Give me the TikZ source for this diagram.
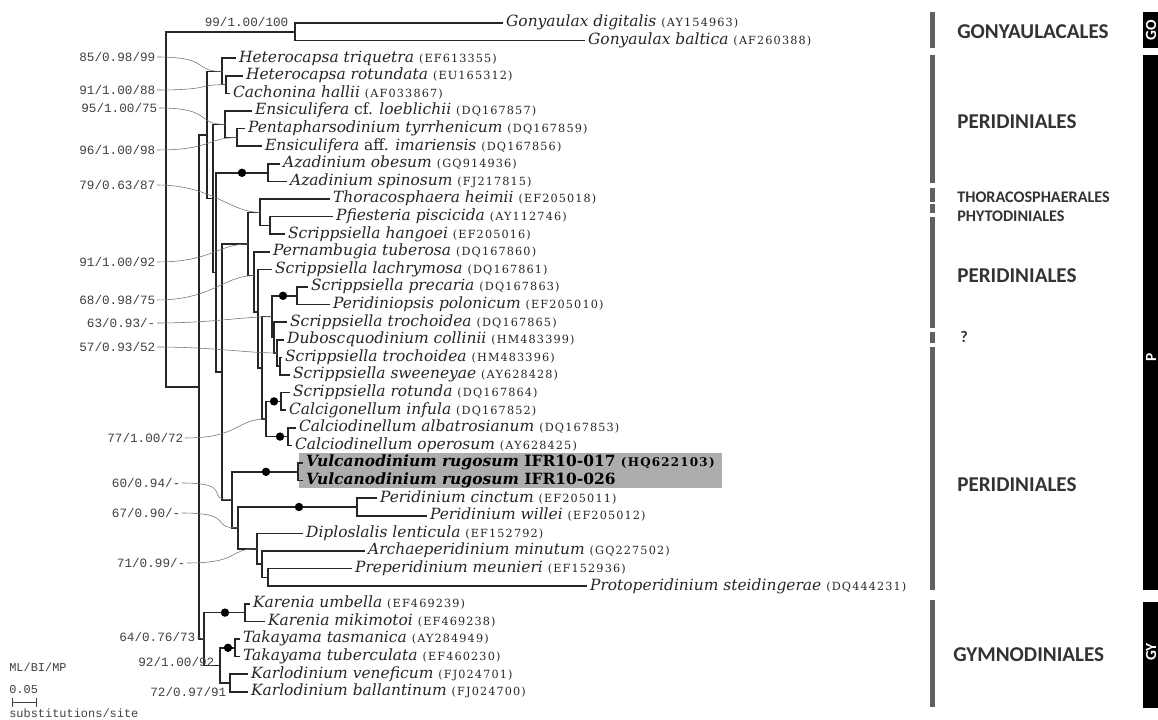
\documentclass[tikz,border=0pt]{standalone}
\usepackage{fontspec}
\setmainfont{DejaVu Serif}
\newfontfamily\accfont[LetterSpace=10]{DejaVu Serif}
\newfontfamily\valfont{Liberation Mono}
\newfontfamily\ordfont{Carlito}
\usepackage{tikz}
\usetikzlibrary{calc}

\newcommand{\taxon}[2]{\textit{#1}\ {\accfont\fontsize{8}{9}\selectfont(#2)}}

\begin{document}
\begin{tikzpicture}[x=0.025cm,y=-0.025cm,
    br/.style={draw=black!85,line width=1.1pt},
    lead/.style={draw=black!55,line width=0.4pt},
    leaf/.style={anchor=west,inner xsep=2pt,inner ysep=0pt,text height=8pt,text depth=2.5pt,
      font=\fontsize{11}{12}\selectfont,text=black!85},
    val/.style={anchor=east,inner sep=1pt,font=\valfont\fontsize{9}{10}\selectfont,text=black!75},
    note/.style={anchor=west,inner sep=0pt,font=\valfont\fontsize{8.5}{9}\selectfont,text=black!75},
    dot/.style={circle,fill=black,inner sep=0pt,minimum size=0.21cm},
    ord/.style={anchor=west,inner sep=0pt,font=\ordfont\bfseries\fontsize{15}{16}\selectfont,text=black!80},
    ordsm/.style={ord,font=\ordfont\bfseries\fontsize{11.5}{12}\selectfont},
    clade/.style={rotate=90,inner sep=0pt,text=white,font=\ordfont\bfseries\fontsize{11}{12}\selectfont}]

  \fill[white] (0,0) rectangle (1158,720);
  \useasboundingbox (0,0) rectangle (1158,720);

  \fill[black!32] (299,453) rectangle (722,488);

  % internal nodes
  \coordinate (R) at (166,209.4);
  \coordinate (Gon) at (295,31.8);
  \coordinate (N1) at (199,387);
  \coordinate (N2) at (207,134.9);
  \coordinate (H1) at (222,71.4);
  \coordinate (H2) at (226,84.6);
  \coordinate (N3) at (213,198.4);
  \coordinate (E1) at (225,124.4);
  \coordinate (E2) at (237,137.6);
  \coordinate (N4) at (216,272.4);
  \coordinate (Az) at (268,172.8);
  \coordinate (N5) at (222,372);
  \coordinate (P1) at (248,244);
  \coordinate (T1) at (260,212.4);
  \coordinate (T2) at (270,225.6);
  \coordinate (S1) at (254,275.6);
  \coordinate (S2) at (258,312.2);
  \coordinate (S3) at (262,367.9);
  \coordinate (S4) at (272,316.7);
  \coordinate (Pr) at (297,295.8);
  \coordinate (S5) at (274,337.6);
  \coordinate (S6) at (277,353);
  \coordinate (S7) at (280,366.2);
  \coordinate (S8) at (266,419);
  \coordinate (Ro) at (281,401.4);
  \coordinate (Ca) at (288,436.6);
  \coordinate (Pl) at (232,499.9);
  \coordinate (Vn) at (298,471.8);
  \coordinate (Q1) at (238,527.9);
  \coordinate (Pn) at (357,507);
  \coordinate (D1) at (257,548.8);
  \coordinate (D2) at (262,564.2);
  \coordinate (D3) at (268,577.4);
  \coordinate (Gym) at (204,639);
  \coordinate (K) at (245,612.6);
  \coordinate (TK) at (220,665.4);
  \coordinate (Tk) at (235,647.8);
  \coordinate (Kd) at (230,683);

  % taxa
  \foreach \i/\x/\g/\a in {1/503/{Gonyaulax digitalis}/AY154963,
      2/585/{Gonyaulax baltica}/AF260388,
      3/236/{Heterocapsa triquetra}/EF613355,
      4/243/{Heterocapsa rotundata}/EU165312,
      5/230/{Cachonina hallii}/AF033867,
      6/252/{Ensiculifera {\upshape cf.} loeblichii}/DQ167857,
      7/245/{Pentapharsodinium tyrrhenicum}/DQ167859,
      8/262/{Ensiculifera {\upshape aff.} imariensis}/DQ167856,
      9/280/{Azadinium obesum}/GQ914936,
      10/287/{Azadinium spinosum}/FJ217815,
      11/330/{Thoracosphaera heimii}/EF205018,
      12/333/{Pfiesteria piscicida}/AY112746,
      13/285/{Scrippsiella hangoei}/EF205016,
      14/270/{Pernambugia tuberosa}/DQ167860,
      15/272/{Scrippsiella lachrymosa}/DQ167861,
      16/308/{Scrippsiella precaria}/DQ167863,
      17/330/{Peridiniopsis polonicum}/EF205010,
      18/287/{Scrippsiella trochoidea}/DQ167865,
      19/284/{Duboscquodinium collinii}/HM483399,
      20/282/{Scrippsiella trochoidea}/HM483396,
      21/290/{Scrippsiella sweeneyae}/AY628428,
      22/290/{Scrippsiella rotunda}/DQ167864,
      23/286/{Calcigonellum infula}/DQ167852,
      24/296/{Calciodinellum albatrosianum}/DQ167853,
      25/292/{Calciodinellum operosum}/AY628425,
      28/377/{Peridinium cinctum}/EF205011,
      29/427/{Peridinium willei}/EF205012,
      30/303/{Diploslalis lenticula}/EF152792,
      31/365/{Archaeperidinium minutum}/GQ227502,
      32/352/{Preperidinium meunieri}/EF152936,
      33/587/{Protoperidinium steidingerae}/DQ444231,
      34/250/{Karenia umbella}/EF469239,
      35/265/{Karenia mikimotoi}/EF469238,
      36/240/{Takayama tasmanica}/AY284949,
      37/240/{Takayama tuberculata}/EF460230,
      38/248/{Karlodinium veneficum}/FJ024701,
      39/248/{Karlodinium ballantinum}/FJ024700}
    \node[leaf] (l\i) at (\x,{23+(\i-1)*17.6}) {\taxon{\g}{\a}};
  \node[leaf,text=black,font=\bfseries\fontsize{11}{12}\selectfont] (l26) at (303,463)
    {\textit{Vulcanodinium rugosum} IFR10-017 {\accfont\fontsize{8.5}{9}\selectfont(HQ622103)}};
  \node[leaf,text=black,font=\bfseries\fontsize{11}{12}\selectfont] (l27) at (303,480.6)
    {\textit{Vulcanodinium rugosum} IFR10-026};

  % branches
  \foreach \p/\c in {R/Gon,R/N1,Gon/l1,Gon/l2,N1/N2,N1/Gym,N2/H1,N2/N3,H1/l3,H1/H2,H2/l4,H2/l5,
      N3/E1,N3/N4,E1/l6,E1/E2,E2/l7,E2/l8,N4/Az,N4/N5,Az/l9,Az/l10,N5/P1,N5/Pl,
      P1/T1,P1/S1,T1/l11,T1/T2,T2/l12,T2/l13,S1/l14,S1/S2,S2/l15,S2/S3,S3/S4,S3/S8,
      S4/Pr,S4/S5,Pr/l16,Pr/l17,S5/l18,S5/S6,S6/l19,S6/S7,S7/l20,S7/l21,
      S8/Ro,S8/Ca,Ro/l22,Ro/l23,Ca/l24,Ca/l25,Pl/Vn,Pl/Q1,Vn/l26,Vn/l27,
      Q1/Pn,Q1/D1,Pn/l28,Pn/l29,D1/l30,D1/D2,D2/l31,D2/D3,D3/l32,D3/l33,
      Gym/K,Gym/TK,K/l34,K/l35,TK/Tk,TK/Kd,Tk/l36,Tk/l37,Kd/l38,Kd/l39}
    \draw[br] (\p) |- (\c);

  \node[dot] (dAz) at (242,172.8) {};
  \node[dot] (dPr) at (283,295.8) {};
  \node[dot] (dRo) at (274,401.4) {};
  \node[dot] (dCa) at (280,436.6) {};
  \node[dot] (dVn) at (266,471.8) {};
  \node[dot] (dPn) at (299,507) {};
  \node[dot] (dK) at (225,612.6) {};
  \node[dot] (dTk) at (228,647.8) {};

  % support values
  \node[val] (v1) at (290,22) {99/1.00/100};
  \node[val] (v2) at (157,57) {85/0.98/99};
  \node[val] (v3) at (157,90) {91/1.00/88};
  \node[val] (v4) at (159,108) {95/1.00/75};
  \node[val] (v5) at (157,150) {96/1.00/98};
  \node[val] (v6) at (157,185) {79/0.63/87};
  \node[val] (v7) at (157,262) {91/1.00/92};
  \node[val] (v8) at (157,300) {68/0.98/75};
  \node[val] (v9) at (157,323) {63/0.93/-};
  \node[val] (v10) at (157,347) {57/0.93/52};
  \node[val] (v11) at (185,438) {77/1.00/72};
  \node[val] (v12) at (182,483) {60/0.94/-};
  \node[val] (v13) at (182,513) {67/0.90/-};
  \node[val] (v14) at (187,563) {71/0.99/-};
  \node[val] (v15) at (197,637) {64/0.76/73};
  \node[val] (v16) at (216,662) {92/1.00/92};
  \node[val] (v17) at (228,692) {72/0.97/91};

  \foreach \v/\t in {v2/H1,v3/H2,v4/E1,v5/E2,v6/T1,v7/P1,v8/S1,v9/S4,v10/S6,
      v11/S8,v12/Pl,v13/Q1,v14/D1}
    \draw[lead] (\v.east) .. controls +(55,0) and +(-30,0) .. (\t);
  \draw[lead] (v15.east) -- (Gym);

  % scale
  \node[note] (ml) at (9,667) {ML/BI/MP};
  \node[note] (sc) at (9,690) {0.05};
  \coordinate (sb1) at (12,702);
  \coordinate (sb2) at (37,702);
  \draw[black!75,line width=0.6pt,|-|] (sb1) -- (sb2);
  \node[note] (un) at (9,713) {substitutions/site};

  % orders
  \foreach \a/\b in {12/48,55/183,188/202,204/213,217/328,332/343,347/590,600/707}
    \fill[black!62] (930,\a) rectangle (935,\b);
  \node[ord] (o1) at (957,32) {GONYAULACALES};
  \node[ord] (o2) at (957,122) {PERIDINIALES};
  \node[ordsm] (o3) at (957,197) {THORACOSPHAERALES};
  \node[ordsm] (o4) at (957,216) {PHYTODINIALES};
  \node[ord] (o5) at (957,276) {PERIDINIALES};
  \node[ordsm] (o6) at (960,337) {?};
  \node[ord] (o7) at (957,485) {PERIDINIALES};
  \node[ord] (o8) at (953,655) {GYMNODINIALES};

  \fill[black] (1143,12) rectangle (1158,48);
  \fill[black] (1143,55) rectangle (1158,590);
  \fill[black] (1143,602) rectangle (1158,708);
  \node[clade] (c1) at (1151,30) {GO};
  \node[clade] (c2) at (1151,357) {P};
  \node[clade] (c3) at (1151,652) {GY};
\end{tikzpicture}
\end{document}
